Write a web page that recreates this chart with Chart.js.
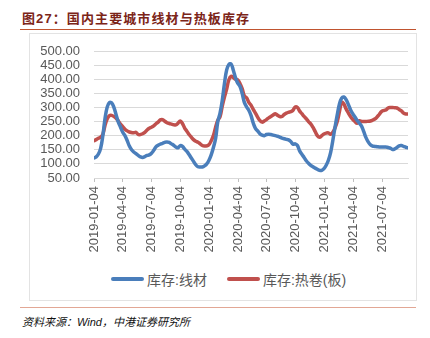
<!DOCTYPE html>
<html>
<head>
<meta charset="utf-8">
<script src="https://cdn.jsdelivr.net/npm/chart.js@4.4.1/dist/chart.umd.min.js"></script>
<style>
  html, body { margin: 0; padding: 0; background: #fff; }
  body { width: 430px; height: 338px; position: relative; overflow: hidden; font-family: "Liberation Sans", "Noto Sans CJK SC", sans-serif; }
  .title { position: absolute; left: 22px; top: 8px; font-size: 13px; font-weight: bold; color: #7b2418; letter-spacing: 1.1px; }
  .rule-top { position: absolute; left: 20px; top: 29px; width: 396px; height: 0; border-top: 1.5px solid #c0532f; }
  .frame { position: absolute; left: 29px; top: 33px; width: 388px; height: 268px; border: 1px solid #e3e3e3; box-sizing: border-box; }
  .rule-bottom { position: absolute; left: 20px; top: 307px; width: 396px; height: 0; border-top: 1.5px solid #e2a795; }
  .source { position: absolute; left: 22px; top: 313px; font-size: 11px; font-style: italic; color: #111; }
  .legend { position: absolute; top: 270px; left: 111px; height: 18px; display: flex; align-items: center; font-size: 14px; color: #595959; white-space: nowrap; }
  .legend .swatch { display: inline-block; width: 33px; height: 4px; border-radius: 2px; margin-right: 3px; }
  .legend .item { display: flex; align-items: center; margin-right: 20px; }
  #chart { position: absolute; left: 0; top: 0; }
</style>
</head>
<body>
<div class="title">图27：国内主要城市线材与热板库存</div>
<div class="rule-top"></div>
<div class="frame"></div>
<div class="legend" id="legend"></div>
<div class="rule-bottom"></div>
<div class="source">资料来源：Wind，中港证券研究所</div>
<canvas id="chart" width="430" height="338"></canvas>
<script>
// weekly readings starting 2019-01-04
const startDate = '2019-01-04';
const seriesNames = ['库存:线材', '库存:热卷(板)'];
const seriesColors = ['#4a7ebb', '#c0504d'];
const tickLabels = ['2019-01-04', '2019-04-04', '2019-07-04', '2019-10-04', '2020-01-04',
  '2020-04-04', '2020-07-04', '2020-10-04', '2021-01-04', '2021-04-04', '2021-07-04'];

const wireRod = [121, 125, 135, 155, 200, 262, 302, 317, 316, 300, 274, 248, 230, 212, 200, 183, 163, 150, 142, 136,
  130, 125, 123, 126, 130, 132, 138, 148, 160, 166, 170, 173, 176, 178, 176, 171, 166, 160, 157, 165,
  162, 152, 144, 133, 121, 109, 97, 90, 89, 89, 93, 100, 113, 132, 158, 190, 250, 280, 325, 385,
  433, 452, 454, 432, 405, 386, 375, 350, 318, 302, 290, 272, 245, 226, 217, 207, 202, 200, 204, 205,
  204, 202, 200, 198, 195, 191, 189, 187, 185, 179, 170, 171, 165, 146, 134, 123, 111, 102, 95, 90,
  85, 81, 77, 77, 83, 95, 113, 140, 183, 230, 274, 312, 333, 337, 328, 311, 292, 278, 266, 254,
  244, 234, 214, 193, 178, 168, 163, 162, 161, 160, 160, 160, 160, 158, 156, 151, 153, 158, 164, 165,
  162, 159, 157];

const hotRolled = [182, 186, 191, 195, 205, 237, 260, 271, 272, 268, 262, 252, 241, 232, 223, 217, 213, 211, 210, 212,
  204, 204, 207, 212, 220, 226, 230, 235, 242, 248, 256, 257, 251, 246, 243, 241, 239, 238, 244, 252,
  243, 227, 216, 204, 195, 186, 180, 177, 171, 165, 163, 164, 168, 182, 200, 230, 255, 267, 305, 337,
  365, 398, 410, 406, 400, 397, 385, 367, 341, 334, 318, 308, 293, 280, 266, 254, 248, 252, 257, 263,
  268, 273, 278, 272, 268, 268, 275, 280, 283, 285, 290, 302, 300, 287, 278, 268, 260, 250, 242, 230,
  215, 200, 194, 200, 206, 209, 210, 205, 212, 228, 250, 285, 318, 312, 295, 281, 268, 258, 250, 244,
  253, 250, 250, 250, 251, 252, 255, 259, 266, 275, 285, 289, 291, 298, 300, 300, 299, 298, 293, 288,
  280, 277, 277];

const DAY = 86400000;
const t0 = Date.parse(startDate);
const dayOf = s => Math.round((Date.parse(s) - t0) / DAY);
const toPoints = arr => arr.map((v, i) => ({ x: i * 7, y: v }));
const tickDays = tickLabels.map(dayOf);

// legend drawn as plain html under the plot
const legendEl = document.getElementById('legend');
seriesNames.forEach((name, i) => {
  const item = document.createElement('span');
  item.className = 'item';
  item.innerHTML = '<span class="swatch" style="background:' + seriesColors[i] + '"></span>' + name;
  legendEl.appendChild(item);
});

const ctx = document.getElementById('chart').getContext('2d');
new Chart(ctx, {
  type: 'line',
  data: {
    datasets: [wireRod, hotRolled].map((arr, i) => ({
      label: seriesNames[i],
      data: toPoints(arr),
      borderColor: seriesColors[i],
      borderWidth: 3.5,
      borderCapStyle: 'round',
      pointRadius: 0,
      tension: 0.4
    }))
  },
  options: {
    responsive: false,
    animation: false,
    layout: { padding: { left: 0, right: 22, top: 51, bottom: 86 } },
    plugins: {
      tooltip: { enabled: false },
      legend: { display: false }
    },
    scales: {
      x: {
        type: 'linear',
        min: 0,
        max: (wireRod.length - 1) * 7,
        afterBuildTicks: scale => { scale.ticks = tickDays.map(d => ({ value: d })); },
        afterFit: scale => { scale.height = 74; },
        grid: { drawOnChartArea: false, tickLength: 4, color: '#bfbfbf' },
        border: { color: '#d9d9d9' },
        ticks: {
          autoSkip: false,
          minRotation: 90,
          maxRotation: 90,
          padding: 4,
          color: '#595959',
          font: { size: 13, family: '"Liberation Sans", sans-serif' },
          callback: v => tickLabels[tickDays.indexOf(v)]
        }
      },
      y: {
        min: 50,
        max: 500,
        afterFit: scale => { scale.width = 94; },
        grid: { color: '#d9d9d9', drawTicks: false },
        border: { display: false },
        ticks: {
          autoSkip: false,
          stepSize: 50,
          padding: 14,
          color: '#595959',
          font: { size: 13, family: '"Liberation Sans", sans-serif' },
          callback: v => v.toFixed(2)
        }
      }
    }
  }
});
</script>
</body>
</html>
